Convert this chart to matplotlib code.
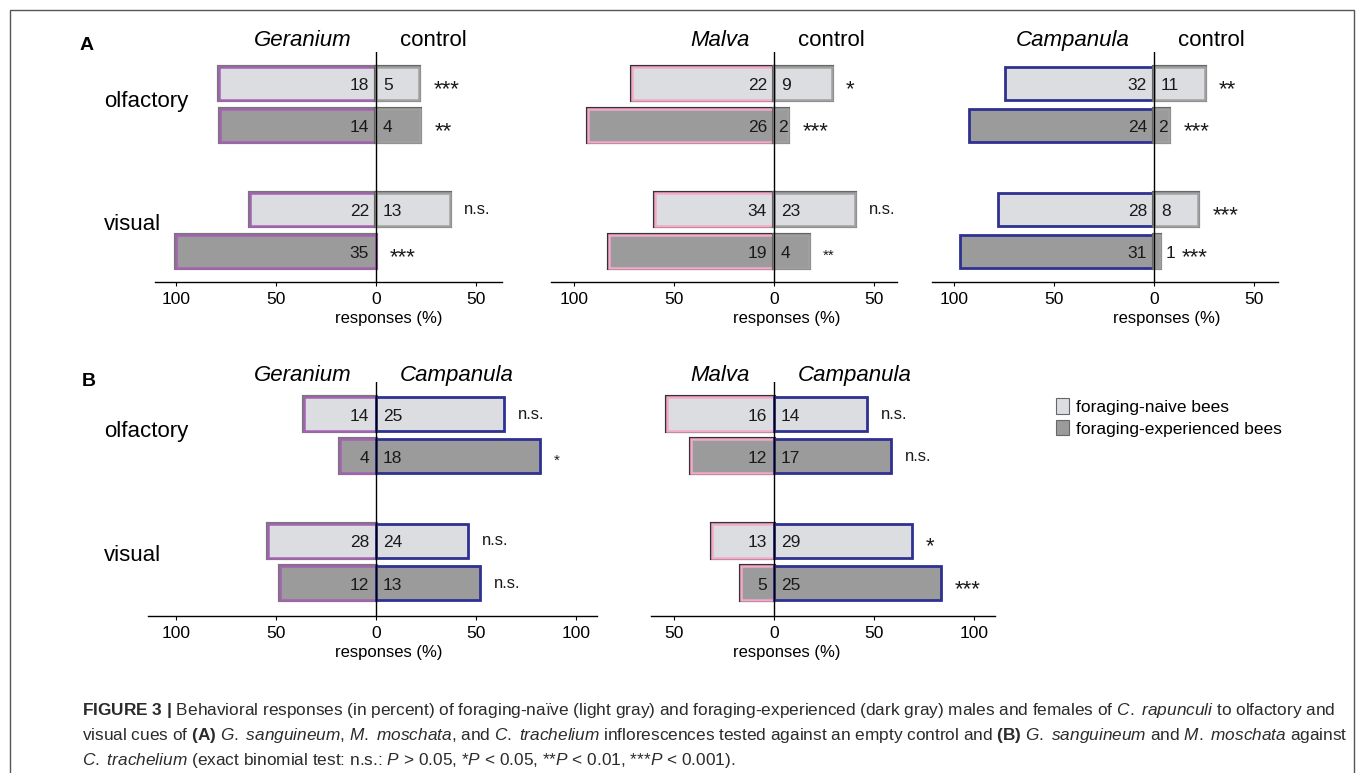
import matplotlib
matplotlib.use('Agg')
import matplotlib.pyplot as plt
from matplotlib import transforms
from matplotlib.patches import Patch, Rectangle

plt.rcParams['font.family'] = ['Liberation Sans', 'DejaVu Sans']
plt.rcParams['mathtext.fontset'] = 'custom'
plt.rcParams['mathtext.rm'] = 'Liberation Sans'
plt.rcParams['mathtext.it'] = 'Liberation Sans:italic'
plt.rcParams['mathtext.bf'] = 'Liberation Sans:bold'

# row order in every panel: olfactory naive, olfactory experienced, visual naive, visual experienced
cues = ['olfactory', 'visual']
bee_groups = ['foraging-naive bees', 'foraging-experienced bees']
rows = [0, 1, 3, 4]

# numbers of bees choosing each side
geranium_vs_control = [18, 14, 22, 35]
control_vs_geranium = [5, 4, 13, 0]
malva_vs_control = [22, 26, 34, 19]
control_vs_malva = [9, 2, 23, 4]
campanula_vs_control = [32, 24, 28, 31]
control_vs_campanula = [11, 2, 8, 1]
geranium_vs_campanula = [14, 4, 28, 12]
campanula_vs_geranium = [25, 18, 24, 13]
malva_vs_campanula = [16, 12, 13, 5]
campanula_vs_malva = [14, 17, 29, 25]

sig_geranium_control = ['***', '**', 'n.s.', '***']
sig_malva_control = ['*', '***', 'n.s.', '**']
sig_campanula_control = ['**', '***', '***', '***']
sig_geranium_campanula = ['n.s.', '*', 'n.s.', 'n.s.']
sig_malva_campanula = ['n.s.', 'n.s.', '*', '***']

LIGHT = '#dcdde0'
DARK = '#9b9b9b'
fills = [LIGHT, DARK, LIGHT, DARK]
edge = {
    'Geranium': ('#777777', '#a263b1'),
    'Malva': ('#333333', '#f4a9c9'),
    'Campanula': (None, '#2e3190'),
    'control': ('#666666', '#a0a0a0'),
}

W, H = 1360, 773
fig = plt.figure(figsize=(W / 100, H / 100), dpi=100)


def px_rect(x0, x1, y0, y1):
    return [x0 / W, 1 - y1 / H, (x1 - x0) / W, (y1 - y0) / H]


panels = [
    dict(rect=px_rect(155, 502, 52, 282), xlim=(-110.5, 63), ylim=(4.73, -0.75),
         ticks=[-100, -50, 0, 50], names=('Geranium', 'control'),
         left=geranium_vs_control, right=control_vs_geranium, sig=sig_geranium_control,
         sig_fs=[16, 16, 12, 16], head_dy=4),
    dict(rect=px_rect(551, 897, 52, 282), xlim=(-111.5, 61.5), ylim=(4.73, -0.75),
         ticks=[-100, -50, 0, 50], names=('Malva', 'control'),
         left=malva_vs_control, right=control_vs_malva, sig=sig_malva_control,
         sig_fs=[16, 16, 12, 11], head_dy=4),
    dict(rect=px_rect(932, 1278, 52, 282), xlim=(-111, 62), ylim=(4.73, -0.75),
         ticks=[-100, -50, 0, 50], names=('Campanula', 'control'),
         left=campanula_vs_control, right=control_vs_campanula, sig=sig_campanula_control,
         sig_fs=[16, 16, 16, 16], head_dy=4),
    dict(rect=px_rect(148, 597, 382, 616), xlim=(-114, 110.5), ylim=(4.78, -0.76),
         ticks=[-100, -50, 0, 50, 100], names=('Geranium', 'Campanula'),
         left=geranium_vs_campanula, right=campanula_vs_geranium, sig=sig_geranium_campanula,
         sig_fs=[12, 11, 12, 12], head_dy=1),
    dict(rect=px_rect(651, 995, 382, 616), xlim=(-61.5, 110.5), ylim=(4.78, -0.76),
         ticks=[-50, 0, 50, 100], names=('Malva', 'Campanula'),
         left=malva_vs_campanula, right=campanula_vs_malva, sig=sig_malva_campanula,
         sig_fs=[12, 12, 16, 16], head_dy=1),
]


def draw_side(ax, pct, sign, style):
    outer, inner = style
    for y, p, fill in zip(rows, pct, fills):
        if p == 0:
            continue
        if outer is not None:
            ax.barh(y, sign * p, height=0.8, color=fill, edgecolor=outer, linewidth=3.0)
            ax.barh(y, sign * p, height=0.8, color=fill, edgecolor=inner, linewidth=1.8)
        else:
            ax.barh(y, sign * p, height=0.8, color=fill, edgecolor=inner, linewidth=2.0)


axes = []
for pn in panels:
    ax = fig.add_axes(pn['rect'])
    axes.append(ax)
    totals = [a + b for a, b in zip(pn['left'], pn['right'])]
    lpct = [100 * a / t for a, t in zip(pn['left'], totals)]
    rpct = [100 * b / t for b, t in zip(pn['right'], totals)]
    lname, rname = pn['names']
    draw_side(ax, lpct, -1, edge[lname])
    draw_side(ax, rpct, 1, edge[rname])
    ax.axvline(0, color='black', lw=1.0, zorder=5)

    for y, n in zip(rows, pn['left']):
        ax.annotate(str(n), (-3.5, y), xytext=(0, -1.5), textcoords='offset points',
                    ha='right', va='center', fontsize=12.5, color='#1a1a1a', zorder=6)
    for y, n, p, s, fs in zip(rows, pn['right'], rpct, pn['sig'], pn['sig_fs']):
        # very short bars get their count just outside the bar
        if p < 5:
            lx = p + 2.5
        elif p < 10:
            lx = 2.0
        else:
            lx = 3.5
        if n > 0:
            ax.annotate(str(n), (lx, y), xytext=(0, -1.5), textcoords='offset points',
                        ha='left', va='center', fontsize=12.5, color='#1a1a1a', zorder=6)
        sx = p + 7 if (p > 5 or n == 0) else lx + 8
        dy = -(0.25 * fs + 0.5) if '*' in s else 0
        ax.annotate(s, (sx, y), xytext=(0, dy), textcoords='offset points',
                    ha='left', va='center', fontsize=fs, color='#1a1a1a')

    tr = ax.get_xaxis_transform()
    ax.annotate(lname, (-12, 1), xycoords=tr, xytext=(0, pn['head_dy']), textcoords='offset points',
                ha='right', va='baseline', fontsize=16, fontstyle='italic' if lname != 'control' else 'normal')
    ax.annotate(rname, (12, 1), xycoords=tr, xytext=(0, pn['head_dy']), textcoords='offset points',
                ha='left', va='baseline', fontsize=16, fontstyle='italic' if rname != 'control' else 'normal')

    ax.set_xlim(pn['xlim'])
    ax.set_ylim(pn['ylim'])
    ax.set_yticks([])
    ax.set_xticks(pn['ticks'])
    ax.set_xticklabels([str(abs(t)) for t in pn['ticks']])
    ax.tick_params(axis='x', labelsize=12.5, length=3, width=0.8, pad=4)
    for side in ['left', 'top', 'right']:
        ax.spines[side].set_visible(False)
    ax.spines['bottom'].set_linewidth(1.0)
    ax.set_xlabel('responses (%)', fontsize=12, labelpad=0)
    x0, x1 = pn['xlim']
    ax.xaxis.set_label_coords((6.5 - x0) / (x1 - x0), -0.125)
    ax.patch.set_alpha(0)

# cue labels on the left
for ax in (axes[0], axes[3]):
    tr = transforms.blended_transform_factory(fig.transFigure, ax.transData)
    ax.text(104 / W, 0.42, cues[0], transform=tr, ha='left', va='center', fontsize=16)
    ax.text(104 / W, 3.35, cues[1], transform=tr, ha='left', va='center', fontsize=16)

fig.text(80 / W, 1 - 45 / H, 'A', fontsize=14, fontweight='bold', ha='left', va='center')
fig.text(82 / W, 1 - 382 / H, 'B', fontsize=14, fontweight='bold', ha='left', va='center')

handles = [Patch(facecolor=LIGHT, edgecolor='#666666', linewidth=0.8),
           Patch(facecolor=DARK, edgecolor='#666666', linewidth=0.8)]
fig.legend(handles, bee_groups, loc='upper left', bbox_to_anchor=(1056 / W, 1 - 398 / H),
           frameon=False, fontsize=12.5, handlelength=0.75, handleheight=1.0,
           handletextpad=0.4, labelspacing=0.3, borderpad=0, borderaxespad=0)

caption = [
    r'$\mathbf{FIGURE\ 3\ |}$ Behavioral responses (in percent) of foraging-naïve (light gray) and '
    r'foraging-experienced (dark gray) males and females of $\mathit{C.}$ $\mathit{rapunculi}$ to olfactory and',
    r'visual cues of $\mathbf{(A)}$ $\mathit{G.}$ $\mathit{sanguineum}$, $\mathit{M.}$ $\mathit{moschata}$, and '
    r'$\mathit{C.}$ $\mathit{trachelium}$ inflorescences tested against an empty control and $\mathbf{(B)}$ '
    r'$\mathit{G.}$ $\mathit{sanguineum}$ and $\mathit{M.}$ $\mathit{moschata}$ against',
    r'$\mathit{C.}$ $\mathit{trachelium}$ (exact binomial test: n.s.: $\mathit{P}$ > 0.05, *$\mathit{P}$ < 0.05, '
    r'**$\mathit{P}$ < 0.01, ***$\mathit{P}$ < 0.001).',
]
for i, line in enumerate(caption):
    fig.text(82 / W, 1 - (715 + 25 * i) / H, line, fontsize=12.4, color='#2b2b2b',
             ha='left', va='baseline')

fig.patches.append(Rectangle((10 / W, -0.05), 1344 / W, 1 - 10 / H + 0.05, fill=False,
                             edgecolor='#555555', linewidth=1.0, transform=fig.transFigure))

fig.savefig('out.png', dpi=100, facecolor='white')
